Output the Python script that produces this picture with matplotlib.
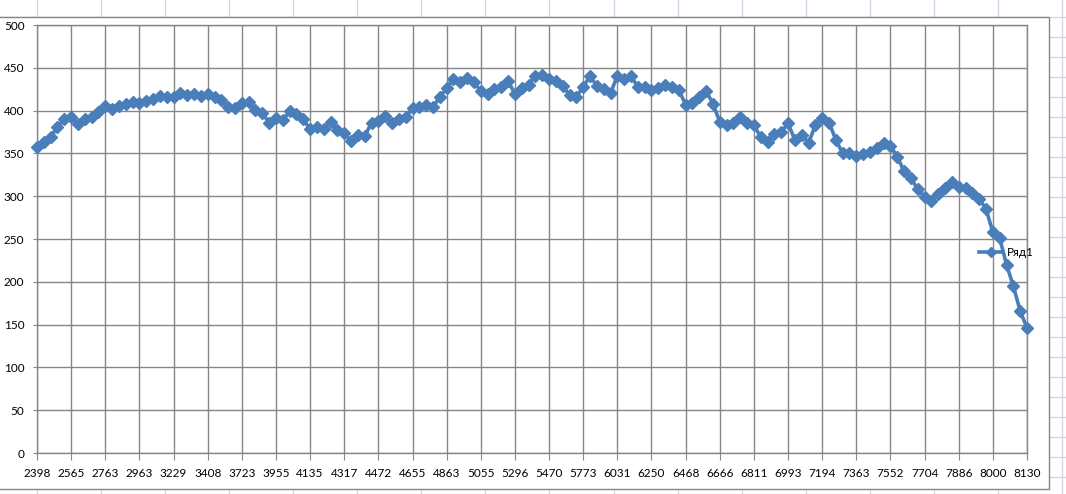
import numpy as np
import matplotlib
matplotlib.use('Agg')
import matplotlib.pyplot as plt
from matplotlib.patches import Rectangle
from matplotlib.lines import Line2D

plt.rcParams['font.family'] = ['Lato', 'DejaVu Sans']

# --- data ---
tick_labels = ['2398', '2565', '2763', '2963', '3229', '3408', '3723', '3955',
               '4135', '4317', '4472', '4655', '4863', '5055', '5296', '5470',
               '5773', '6031', '6250', '6468', '6666', '6811', '6993', '7194',
               '7363', '7552', '7704', '7886', '8000', '8130']
values = [358, 363, 369, 381, 390, 392, 384, 390, 393, 398,
          405, 402, 405, 408, 410, 409, 411, 414, 417, 416,
          416, 421, 418, 419, 417, 419, 416, 412, 404, 403,
          409, 410, 401, 397, 386, 391, 389, 399, 396, 390,
          378, 381, 378, 387, 377, 374, 364, 372, 370, 386,
          388, 394, 386, 390, 392, 403, 404, 406, 404, 416,
          426, 437, 433, 438, 433, 423, 419, 425, 428, 435,
          419, 426, 430, 441, 442, 437, 434, 429, 418, 416,
          428, 440, 429, 425, 420, 441, 437, 441, 427, 428,
          424, 426, 430, 427, 424, 407, 409, 416, 423, 408,
          387, 383, 385, 393, 386, 383, 369, 363, 373, 375,
          385, 366, 372, 362, 383, 391, 386, 366, 350, 351,
          347, 349, 352, 356, 362, 359, 346, 329, 321, 308,
          299, 294, 303, 309, 317, 311, 310, 304, 297, 285,
          258, 251, 220, 195, 166, 146]
series_name = 'Ряд1'
label_step = 5

W, H = 1066, 494
blue = '#4A7EBB'
grid_c = '#868686'
cell_c = '#D0D7E5'

fig = plt.figure(figsize=(W / 100, H / 100), dpi=100)
fig.patch.set_facecolor('white')

# spreadsheet cell grid behind the chart
for cx in np.arange(37, W, 64.06):
    fig.add_artist(Line2D([cx / W, cx / W], [0, 1], color=cell_c, lw=1, zorder=0))
for ry in np.arange(17, H, 20):
    fig.add_artist(Line2D([0, 1], [1 - ry / H, 1 - ry / H], color=cell_c, lw=1, zorder=0))

# chart area
fig.add_artist(Rectangle((-2 / W, 1 - 489 / H), 1051 / W, 472 / H,
                         transform=fig.transFigure, facecolor='white',
                         edgecolor=grid_c, lw=1, zorder=1))

ax = fig.add_axes([37 / W, (H - 453) / H, 990 / W, 428 / H], zorder=2)
ax.set_facecolor('none')

x = np.arange(len(values))
ax.plot(x, values, color=blue, lw=2.6, marker='D', markersize=6,
        markerfacecolor=blue, markeredgecolor=blue, clip_on=False,
        label=series_name, zorder=3)

ax.set_xlim(0, len(values) - 1)
ax.set_ylim(0, 500)
ax.set_yticks(np.arange(0, 501, 50))
ax.set_xticks(x[::label_step])
ax.set_xticklabels(tick_labels)
ax.grid(True, color=grid_c, lw=1)
ax.set_axisbelow(True)
for s in ax.spines.values():
    s.set_color(grid_c)
    s.set_linewidth(1)
ax.tick_params(axis='x', length=5, color=grid_c, labelsize=8.5, pad=6, direction='out')
ax.tick_params(axis='y', length=3, color=grid_c, labelsize=8.5, pad=6, direction='out')

ax.legend(loc='center left', bbox_to_anchor=(979 / W, 1 - 253 / H),
          bbox_transform=fig.transFigure, frameon=False, fontsize=8.5,
          handlelength=2.0, handletextpad=0.4, borderpad=0, borderaxespad=0,
          markerscale=0.8)

fig.savefig('out.png', dpi=100)
